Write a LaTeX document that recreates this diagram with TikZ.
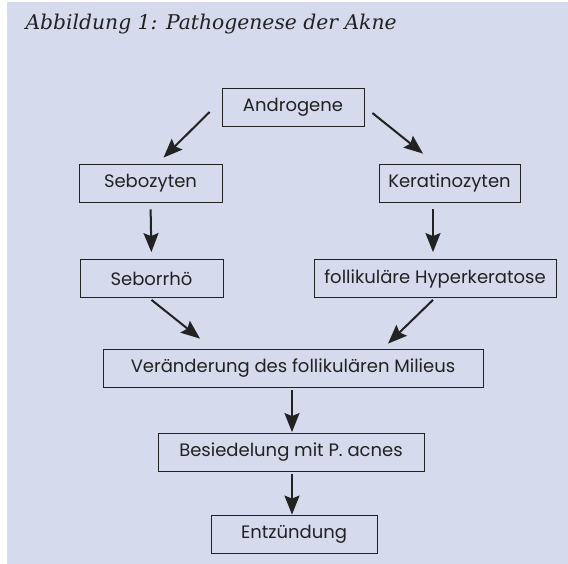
\documentclass[tikz,border=0pt]{standalone}
\usepackage{fontspec}
\setmainfont{DejaVu Serif}
\newfontfamily\boxfont{Poppins}
\usetikzlibrary{arrows.meta,calc}
\definecolor{bg}{HTML}{D5DAEC}
\definecolor{ink}{HTML}{222222}
\tikzset{
  box/.style={draw=ink, line width=0.8pt, inner sep=0pt, minimum height=38pt,
    text=ink, font=\boxfont\fontsize{18}{20}\selectfont},
  arr/.style={draw=ink, line width=2pt, -{Stealth[length=19pt,width=15pt,inset=3pt]}}
}
\begin{document}
\begin{tikzpicture}[x=1pt,y=-1pt]
\useasboundingbox (0,0) rectangle (568,564);
\fill[bg] (7,2) rectangle (568,564);
\node[anchor=base west, text=ink, font=\itshape\fontsize{20.3}{22}\selectfont] (title) at (22,30) {Abbildung 1: Pathogenese der Akne};
\node[box, minimum width=142pt] (andro) at (293,107) {Androgene};
\node[box, minimum width=143pt] (sebo) at (150.5,183) {Sebozyten};
\node[box, minimum width=141pt] (kera) at (449.5,183) {Keratinozyten};
\node[box, minimum width=143pt] (sebor) at (151.5,278.5) {Seborrhö};
\node[box, minimum width=242pt] (hyper) at (435,278.5) {follikuläre Hyperkeratose};
\node[box, minimum width=380pt] (ver) at (293,368) {Veränderung des follikulären Milieus};
\node[box, minimum width=266pt] (bes) at (291,452.5) {Besiedelung mit P. acnes};
\node[box, minimum width=166pt] (ent) at (294,534.5) {Entzündung};
\draw[arr] ($(andro.west)+(-12,5)$) -- ($(sebo.north)+(13,-6)$);
\draw[arr] ($(andro.east)+(8,6)$) -- ($(kera.north)+(-26.5,-10)$);
\draw[arr, shorten <=7pt, shorten >=7pt] (sebo.south) -- (sebor.north);
\draw[arr, shorten <=7pt, shorten >=7pt] ($(kera.south)+(-16.5,0)$) -- ($(hyper.north)+(-2,0)$);
\draw[arr] ($(sebor.south)+(0,2)$) -- ($(ver.north)+(-93,-10)$);
\draw[arr] ($(hyper.south)+(-2,2)$) -- ($(ver.north)+(95,-5)$);
\draw[arr, shorten <=3pt, shorten >=1pt] ($(ver.south)+(-1,0)$) -- ($(bes.north)+(1,0)$);
\draw[arr, shorten <=2pt, shorten >=0.5pt] ($(bes.south)+(1,0)$) -- ($(ent.north)+(-2,0)$);
\end{tikzpicture}
\end{document}
